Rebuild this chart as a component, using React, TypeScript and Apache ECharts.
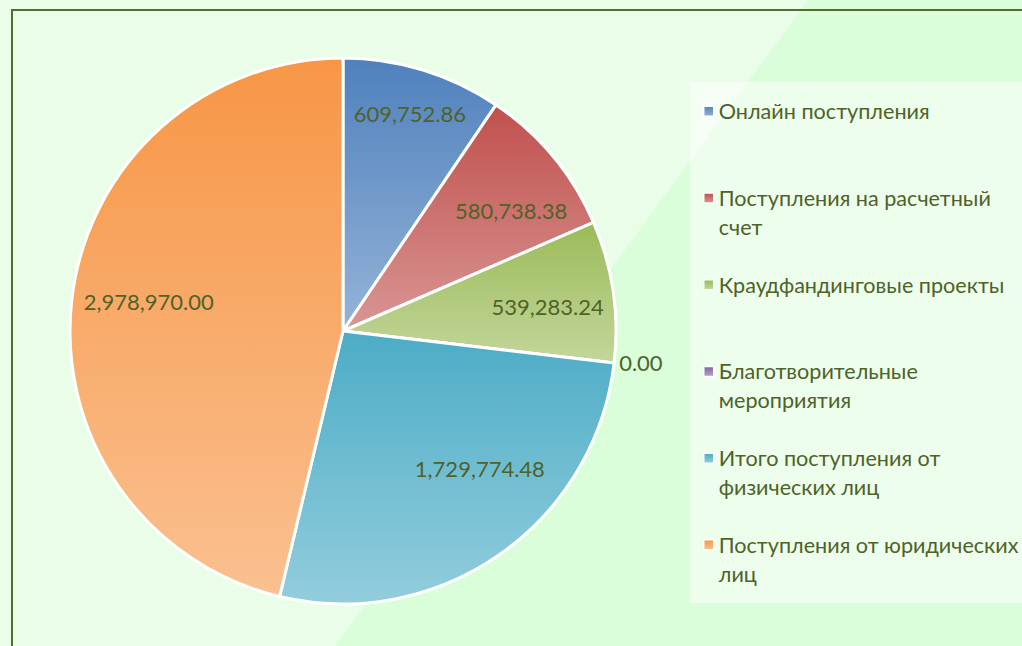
import React, { useEffect, useRef } from "react";
import * as echarts from "echarts";

const categories = [
  "Онлайн поступления",
  "Поступления на расчетный счет",
  "Краудфандинговые проекты",
  "Благотворительные мероприятия",
  "Итого поступления от физических лиц",
  "Поступления от юридических лиц",
];
const legendLabels = [
  "Онлайн поступления\n ",
  "Поступления на расчетный\nсчет",
  "Краудфандинговые проекты\n ",
  "Благотворительные\nмероприятия",
  "Итого поступления от\nфизических лиц",
  "Поступления от юридических\nлиц",
];
const values = [609752.86, 580738.38, 539283.24, 0, 1729774.48, 2978970.0];
const topColors = ["#4f81bd", "#c0504d", "#9bbb59", "#8064a2", "#4bacc6", "#f79646"];
const bottomColors = ["#95b3d7", "#d99694", "#c3d69b", "#b3a2c7", "#93cddd", "#fac090"];
const labelRadiusFactor = [0.835, 0.758, 0.755, 1, 0.71, 0.72];
const labelAngleShift = [0, 4, 1.5, 0, -10, 2];

const CX = 343;
const CY = 331;
const RADIUS = 273;
const FONT = "Lato, 'Noto Sans', sans-serif";
const TEXT_COLOR = "#4f6228";

const fmt = (v: number) =>
  v.toLocaleString("en-US", { minimumFractionDigits: 2, maximumFractionDigits: 2 });

export default function App() {
  const ref = useRef<HTMLDivElement>(null);
  useEffect(() => {
    if (!ref.current) return;
    const chart = echarts.init(ref.current, undefined, { renderer: "svg" });
    const data = categories.map((name, i) => {
      const item: any = {
        name,
        value: values[i],
        itemStyle: {
          color: new echarts.graphic.LinearGradient(0, 0, 0, 1, [
            { offset: 0, color: topColors[i] },
            { offset: 1, color: bottomColors[i] },
          ]),
        },
      };
      if (values[i] === 0) {
        item.label = { position: "outside" };
        item.labelLine = { show: false, length: 0, length2: 0 };
      }
      return item;
    });
    chart.setOption({
      animation: false,
      backgroundColor: "#e9fde9",
      graphic: [
        {
          type: "polygon",
          silent: true,
          shape: { points: [[808, 0], [1022, 0], [1022, 646], [335, 646]] },
          style: { fill: "#dafdda" },
        },
        {
          type: "rect",
          silent: true,
          shape: { x: 690, y: 82, width: 340, height: 521 },
          style: { fill: "rgba(255,255,255,0.5)" },
        },
        {
          type: "rect",
          silent: true,
          shape: { x: 12, y: 10, width: 1100, height: 700 },
          style: { fill: "none", stroke: "#556b2f", lineWidth: 2 },
        },
      ],
      legend: {
        orient: "vertical",
        left: 703,
        top: 68,
        padding: 0,
        itemGap: 0,
        itemWidth: 10,
        itemHeight: 10,
        icon: "rect",
        itemStyle: { borderColor: "#ffffff", borderWidth: 1.5 },
        data: categories,
        formatter: (name: string) => " \n" + legendLabels[categories.indexOf(name)],
        textStyle: {
          fontFamily: FONT,
          fontSize: 21.6,
          color: TEXT_COLOR,
          lineHeight: 28.9,
          backgroundColor: "rgba(0,0,0,0)",
        },
      },
      series: [
        {
          type: "pie",
          center: [CX, CY],
          radius: [0, RADIUS],
          startAngle: 90,
          clockwise: true,
          avoidLabelOverlap: false,
          itemStyle: { borderColor: "#ffffff", borderWidth: 3 },
          label: {
            show: true,
            position: "inside",
            formatter: (p: any) => fmt(p.value),
            fontFamily: FONT,
            fontSize: 22,
            color: TEXT_COLOR,
          },
          labelLine: { show: false },
          labelLayout: (p: any) => {
            const i = p.dataIndex;
            if (values[i] === 0) return {};
            const r = p.labelRect;
            const lx = r.x + r.width / 2;
            const ly = r.y + r.height / 2;
            const a = Math.atan2(lx - CX, -(ly - CY)) + (labelAngleShift[i] * Math.PI) / 180;
            const rr = RADIUS * labelRadiusFactor[i];
            return { x: CX + rr * Math.sin(a), y: CY - rr * Math.cos(a) };
          },
          data,
        },
      ],
    });
    return () => chart.dispose();
  }, []);
  return (
    <div
      ref={ref}
      style={{ position: "fixed", left: 0, top: 0, width: 1022, height: 646 }}
    />
  );
}
